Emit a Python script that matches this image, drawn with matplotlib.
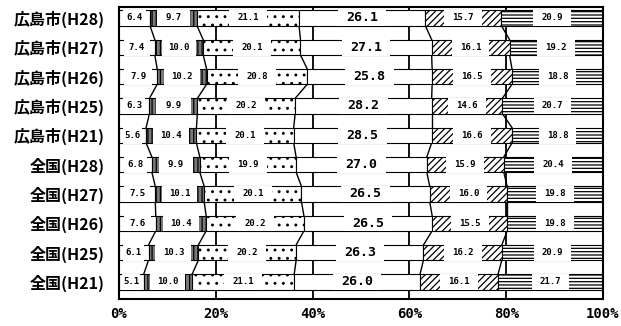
import matplotlib
matplotlib.use("Agg")
import matplotlib.pyplot as plt
from matplotlib.patches import Rectangle
import numpy as np

plt.rcParams['font.family'] = ['Noto Sans CJK JP', 'DejaVu Sans']
plt.rcParams['hatch.linewidth'] = 0.9

labels = ['広島市(H28)', '広島市(H27)', '広島市(H26)', '広島市(H25)', '広島市(H21)',
          '全国(H28)', '全国(H27)', '全国(H26)', '全国(H25)', '全国(H21)']
s1 = [6.4, 7.4, 7.9, 6.3, 5.6, 6.8, 7.5, 7.6, 6.1, 5.1]
s2 = [9.7, 10.0, 10.2, 9.9, 10.4, 9.9, 10.1, 10.4, 10.3, 10.0]
s3 = [21.1, 20.1, 20.8, 20.2, 20.1, 19.9, 20.1, 20.2, 20.2, 21.1]
s4 = [26.1, 27.1, 25.8, 28.2, 28.5, 27.0, 26.5, 26.5, 26.3, 26.0]
s5 = [15.7, 16.1, 16.5, 14.6, 16.6, 15.9, 16.0, 15.5, 16.2, 16.1]
s6 = [20.9, 19.2, 18.8, 20.7, 18.8, 20.4, 19.8, 19.8, 20.9, 21.7]
xticks = [0, 20, 40, 60, 80, 100]

series = [s1, s2, s3, s4, s5, s6]
faces = ['white', '#7a7a7a', 'white', 'white', 'white', 'white']
hatches = [None, '||||', '..', None, '/////', '-----']

fig = plt.figure(figsize=(6.21, 3.26), dpi=100)
ax = fig.add_axes([0.1916, 0.083, 0.7794, 0.896])

y = np.arange(len(labels))
h = 0.52
left = np.zeros(len(labels))
bounds = []
for n, (vals, fc, ht) in enumerate(zip(series, faces, hatches)):
    vals = np.array(vals)
    ax.barh(y, vals, left=left, height=h, color=fc, hatch=ht,
            edgecolor='black', linewidth=0.8, zorder=2)
    big = n == 3
    # white label box in the middle of each segment
    for yy, l, v in zip(y, left, vals):
        w = 10.0 if big else min(0.72 * v, 7.8)
        ax.add_patch(Rectangle((l + v / 2 - w / 2, yy - h / 2 - 0.02), w, h + 0.04,
                               facecolor='white', edgecolor='none', zorder=3))
        ax.text(l + v / 2, yy, '%.1f' % v, ha='center', va='center',
                fontsize=9.5 if big else 6.5, fontweight='bold',
                family='DejaVu Sans Mono', zorder=4)
    left = left + vals
    bounds.append(left.copy())

# series lines joining segment borders of neighbouring bars
for b in bounds[:-1]:
    for i in range(len(labels) - 1):
        ax.plot([b[i], b[i + 1]], [i + h / 2, i + 1 - h / 2],
                color='black', lw=1.0, zorder=1)

for gx in [20, 40, 60, 80]:
    ax.axvline(gx, color='black', lw=1.3, zorder=0)

ax.set_xlim(0, 100)
ax.set_ylim(len(labels) - 0.42, -0.38)
ax.set_xticks(xticks)
ax.set_xticklabels(['%d%%' % t for t in xticks], fontsize=10, fontweight='bold',
                   family='DejaVu Sans Mono')
ax.set_yticks(y)
ax.set_yticklabels(labels, fontsize=11.5, fontweight='bold')
ax.tick_params(axis='y', length=0, pad=10)
ax.tick_params(axis='x', length=0, pad=6)
for sp in ax.spines.values():
    sp.set_linewidth(1.5)

fig.savefig('out.png', dpi=100)
